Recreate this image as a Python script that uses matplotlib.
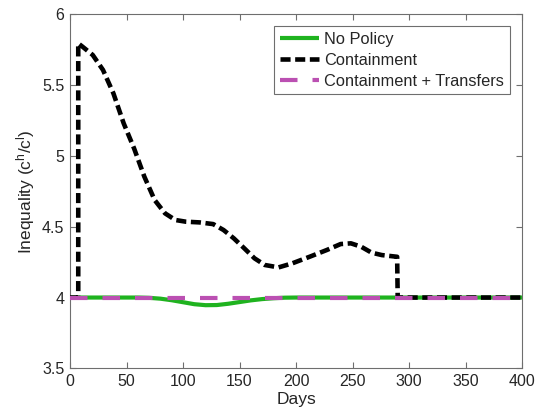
import matplotlib
matplotlib.use("Agg")
import matplotlib.pyplot as plt
from matplotlib.ticker import FormatStrFormatter

plt.rcParams['font.family'] = ['Liberation Sans', 'DejaVu Sans']
plt.rcParams['mathtext.default'] = 'regular'

# --- data ---
nopolicy_days = [0, 60, 70, 80, 90, 100, 110, 120, 130, 140, 150, 160, 170, 180, 190, 200, 400]
nopolicy_vals = [4.0, 4.0, 3.998, 3.992, 3.981, 3.967, 3.953, 3.946, 3.947, 3.956, 3.968,
                 3.980, 3.989, 3.995, 3.999, 4.0, 4.0]

cont_days = [0, 7.3, 7.3, 11, 20.1, 29.2, 38.4, 47.5, 56.7, 65.8, 74.9, 84.1, 93.2, 102.4,
             114.5, 126.7, 135.9, 145, 154.2, 163.3, 172.4, 184.6, 196.8, 212, 227.3,
             239.5, 248.6, 257.7, 266.9, 276, 289.5, 290, 400]
cont_vals = [4.0, 4.0, 5.796, 5.773, 5.714, 5.608, 5.443, 5.231, 5.054, 4.854, 4.689,
             4.595, 4.548, 4.536, 4.531, 4.519, 4.477, 4.418, 4.348, 4.277, 4.230,
             4.213, 4.242, 4.288, 4.336, 4.378, 4.383, 4.359, 4.317, 4.300, 4.288,
             4.0, 4.0]

transfer_days = [0, 400]
transfer_vals = [4.0, 4.0]

labels = ['No Policy', 'Containment', 'Containment + Transfers']
x_ticks = [0, 50, 100, 150, 200, 250, 300, 350, 400]
y_ticks = [3.5, 4, 4.5, 5, 5.5, 6]

fig = plt.figure(figsize=(5.4, 4.19), dpi=100)
ax = fig.add_axes([70 / 540, 1 - 368.3 / 419, 452 / 540, 353.8 / 419])

ax.plot(nopolicy_days, nopolicy_vals, color='#1fb31f', lw=3.0, label=labels[0],
        zorder=2, solid_capstyle='butt')
ax.plot(cont_days, cont_vals, color='black', lw=3.3, dashes=(2.2, 1.0),
        label=labels[1], zorder=3)
ax.plot(transfer_days, transfer_vals, color='#bb50b2', lw=3.0, dashes=(4.2, 3.6),
        label=labels[2], zorder=4)

ax.set_xlim(0, 400)
ax.set_ylim(3.5, 6)
ax.set_xticks(x_ticks)
ax.set_yticks(y_ticks)
ax.yaxis.set_major_formatter(FormatStrFormatter('%g'))

text_color = '#262626'
for s in ax.spines.values():
    s.set_color('#6e6e6e')
    s.set_linewidth(0.8)
ax.tick_params(direction='in', length=4, width=0.8, color='#6e6e6e',
               labelsize=11.5, labelcolor=text_color, top=True, right=True, pad=4)

ax.set_xlabel('Days', fontsize=12.5, color=text_color, labelpad=2)
ax.set_ylabel('Inequality (c$^{h}$/c$^{l}$)', fontsize=12.5, color=text_color, labelpad=4)

leg = ax.legend(loc='upper right', bbox_to_anchor=((510 - 70) / 452, 1 - (26 - 14.5) / 353.8),
                borderaxespad=0, fontsize=11.8, handlelength=2.4, handletextpad=0.3,
                labelspacing=0.36, borderpad=0.35, fancybox=False, framealpha=1)
leg.get_frame().set_edgecolor('#6e6e6e')
leg.get_frame().set_linewidth(0.8)
for t in leg.get_texts():
    t.set_color(text_color)

fig.savefig('out.png', dpi=100)
